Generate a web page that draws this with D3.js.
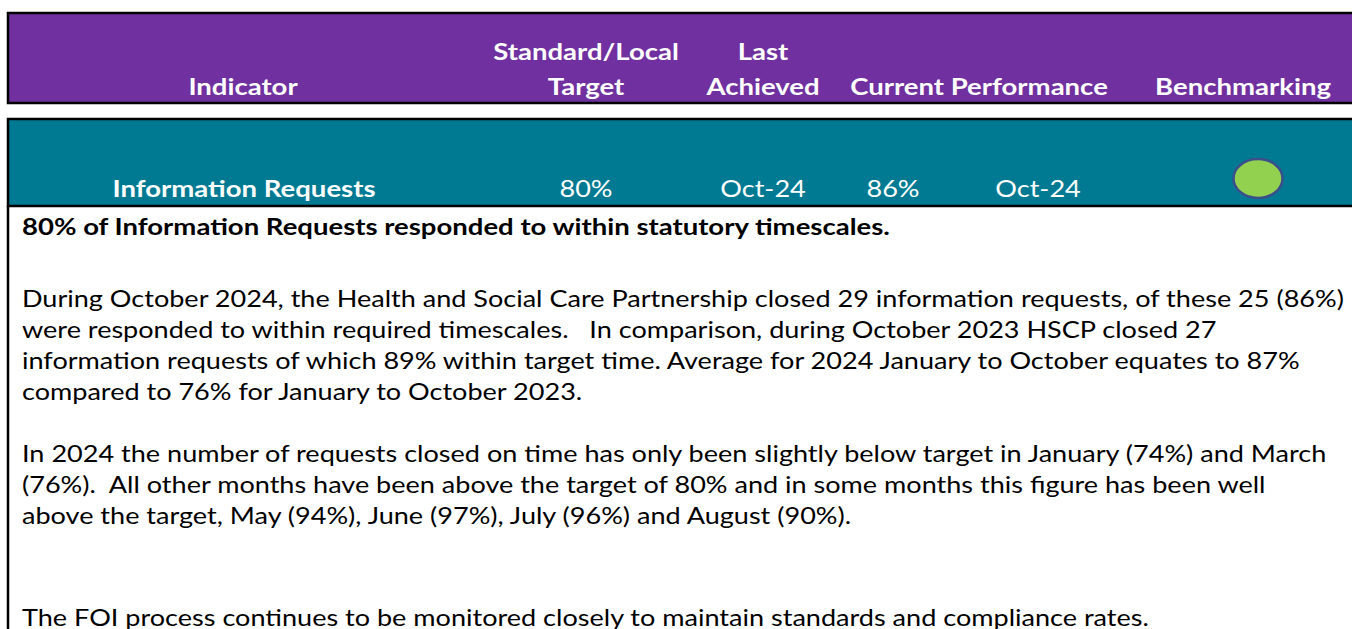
<!DOCTYPE html>
<html>
<head>
<meta charset="utf-8">
<script src="https://cdn.jsdelivr.net/npm/d3@7"></script>
<style>
  html, body { margin: 0; padding: 0; background: #fff; overflow: hidden; }
  svg { display: block; }
  text { font-family: Lato, "Open Sans", sans-serif; }
</style>
</head>
<body>
<svg width="1352" height="629"></svg>
<script>
// table header and the single indicator row
const headerKeys = ["indicator", "target", "last", "current", "bench"];
const headerLabels = [["Indicator"], ["Standard/Local", "Target"], ["Last", "Achieved"], ["Current Performance"], ["Benchmarking"]];
const rowKeys = ["indicator", "target", "last", "current", "currentDate"];
const rowValues = ["Information Requests", "80%", "Oct-24", "86%", "Oct-24"];
const benchmarkRag = "green";

// commentary text, one entry per printed line
const summaryLine = "80% of Information Requests responded to within statutory timescales.";
const paraOne = [
  "During October 2024, the Health and Social Care Partnership closed 29 information requests, of these 25 (86%)",
  "were responded to within required timescales.   In comparison, during October 2023 HSCP closed 27",
  "information requests of which 89% within target time. Average for 2024 January to October equates to 87%",
  "compared to 76% for January to October 2023."
];
const paraTwo = [
  "In 2024 the number of requests closed on time has only been slightly below target in January (74%) and March",
  "(76%).  All other months have been above the target of 80% and in some months this figure has been well",
  "above the target, May (94%), June (97%), July (96%) and August (90%)."
];
const paraThree = [
  "The FOI process continues to be monitored closely to maintain standards and compliance rates."
];

const svg = d3.select("svg"),
    W = +svg.attr("width"),
    H = +svg.attr("height");

const purple = "#7030A0", teal = "#007A93";
const ragColour = d3.scaleOrdinal().domain(["red", "amber", "green"]).range(["#FF0000", "#FFC000", "#92D050"]);

// column centres
const headX = d3.scaleOrdinal().domain(headerKeys).range([243, 586, 763, 979, 1243]);
const cellX = d3.scaleOrdinal().domain(rowKeys.concat(["bench"])).range([244, 586, 763, 893, 1038, 1258]);

// body line positions (line index -> baseline)
const lineY = d3.scaleLinear().domain([0, 1]).range([307, 338]);
const paraStart = [0, 5, 10.3];

const fontSize = 23.5;

// measure a string so we can squeeze Lato down to the narrower Calibri widths
function measure(str, weight) {
  const t = svg.append("text").attr("font-size", fontSize).attr("font-weight", weight).text(str);
  const w = t.node().getComputedTextLength();
  t.remove();
  return w;
}
const kBold = 868 / measure(summaryLine, "bold");
const kReg = 1323 / measure(paraOne[0], "normal");

// background boxes
svg.append("rect")
    .attr("x", 8).attr("y", 13).attr("width", W + 10).attr("height", 90)
    .attr("fill", purple).attr("stroke", "#000").attr("stroke-width", 2.5);

svg.append("rect")
    .attr("x", 8).attr("y", 119).attr("width", W + 10).attr("height", 87)
    .attr("fill", teal).attr("stroke", "#000").attr("stroke-width", 2.5);

// left border of the commentary box
svg.append("line")
    .attr("x1", 8).attr("x2", 8).attr("y1", 206).attr("y2", H + 5)
    .attr("stroke", "#000").attr("stroke-width", 2.5);

// header labels
const headG = svg.append("g");
headerKeys.forEach((k, i) => {
  const lines = headerLabels[i];
  lines.forEach((l, j) => {
    const y = 95 - (lines.length - 1 - j) * 35;
    headG.append("text")
        .attr("transform", `translate(${headX(k)},${y}) scale(${kBold},1)`)
        .attr("text-anchor", "middle")
        .attr("font-size", fontSize)
        .attr("font-weight", "bold")
        .attr("fill", "#fff")
        .text(l);
  });
});

// indicator row
svg.append("g").selectAll("text")
  .data(rowValues)
  .join("text")
    .attr("transform", (d, i) => `translate(${cellX(rowKeys[i])},197) scale(${i === 0 ? kBold : kReg},1)`)
    .attr("text-anchor", "middle")
    .attr("font-size", fontSize)
    .attr("font-weight", (d, i) => i === 0 ? "bold" : "normal")
    .attr("fill", "#fff")
    .text(d => d);

svg.append("ellipse")
    .attr("cx", cellX("bench")).attr("cy", 178.5)
    .attr("rx", 24.5).attr("ry", 19.5)
    .attr("fill", ragColour(benchmarkRag))
    .attr("stroke", "#3B4E8C").attr("stroke-width", 2.5);

// commentary
svg.append("text")
    .attr("transform", `translate(22,235) scale(${kBold},1)`)
    .attr("font-size", fontSize)
    .attr("font-weight", "bold")
    .attr("fill", "#000")
    .text(summaryLine);

const bodyG = svg.append("g");
[paraOne, paraTwo, paraThree].forEach((para, p) => {
  bodyG.append("g").selectAll("text")
    .data(para)
    .join("text")
      .attr("transform", (d, i) => `translate(22,${lineY(paraStart[p] + i)}) scale(${kReg},1)`)
      .attr("font-size", fontSize)
      .attr("fill", "#000")
      .attr("xml:space", "preserve")
      .style("white-space", "pre")
      .text(d => d);
});
</script>
</body>
</html>
